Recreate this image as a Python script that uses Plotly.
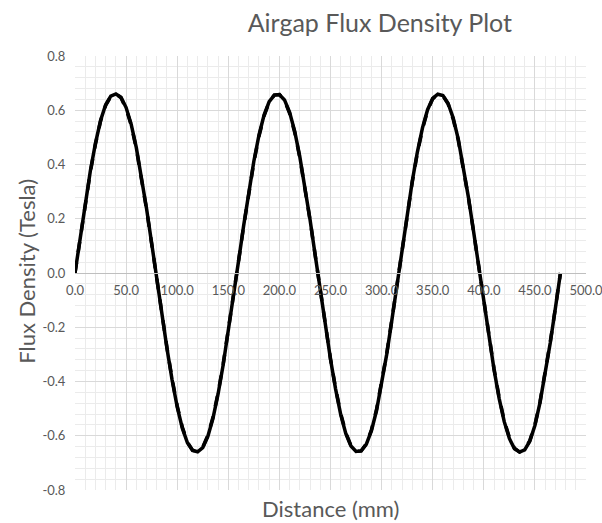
import plotly.graph_objects as go

# Distance (mm), sampled every 5 mm
distance_mm = [i * 5 for i in range(96)]

# Flux density (Tesla)
flux_solid = [
    0.000, 0.130, 0.258, 0.376, 0.478, 0.562, 0.620, 0.652, 0.660, 0.648,
    0.610, 0.548, 0.462, 0.358, 0.238, 0.110, -0.022, -0.152, -0.278, -0.394,
    -0.494, -0.572, -0.626, -0.654, -0.659, -0.644, -0.602, -0.536, -0.446, -0.338,
    -0.216, -0.087, 0.043, 0.174, 0.300, 0.412, 0.508, 0.582, 0.632, 0.656,
    0.658, 0.638, 0.592, 0.522, 0.428, 0.318, 0.196, 0.066, -0.065, -0.195,
    -0.318, -0.428, -0.522, -0.592, -0.638, -0.658, -0.656, -0.632, -0.582, -0.508,
    -0.412, -0.300, -0.175, -0.044, 0.087, 0.216, 0.338, 0.446, 0.535, 0.602,
    0.644, 0.659, 0.654, 0.626, 0.572, 0.494, 0.394, 0.278, 0.153, 0.022,
    -0.108, -0.236, -0.356, -0.462, -0.548, -0.610, -0.648, -0.660, -0.652, -0.620,
    -0.562, -0.478, -0.376, -0.258, -0.131, 0.000,
]
flux_dashed = [
    0.000, 0.128, 0.255, 0.372, 0.475, 0.560, 0.618, 0.651, 0.660, 0.646,
    0.606, 0.545, 0.458, 0.354, 0.235, 0.108, -0.023, -0.151, -0.276, -0.390,
    -0.490, -0.568, -0.624, -0.653, -0.659, -0.642, -0.599, -0.532, -0.442, -0.335,
    -0.214, -0.087, 0.043, 0.172, 0.297, 0.408, 0.504, 0.579, 0.630, 0.656,
    0.658, 0.636, 0.589, 0.518, 0.425, 0.316, 0.195, 0.066, -0.065, -0.193,
    -0.316, -0.425, -0.518, -0.589, -0.636, -0.658, -0.656, -0.630, -0.579, -0.504,
    -0.408, -0.297, -0.173, -0.044, 0.087, 0.214, 0.335, 0.442, 0.531, 0.599,
    0.642, 0.659, 0.653, 0.624, 0.568, 0.490, 0.390, 0.276, 0.152, 0.022,
    -0.108, -0.235, -0.353, -0.458, -0.545, -0.606, -0.646, -0.660, -0.651, -0.618,
    -0.560, -0.475, -0.372, -0.255, -0.130, 0.000,
]

x_ticks = [0, 50, 100, 150, 200, 250, 300, 350, 400, 450, 500]
y_ticks = [-0.8, -0.6, -0.4, -0.2, 0.0, 0.2, 0.4, 0.6, 0.8]
x_ticktext = ["%.1f" % v for v in x_ticks]
y_ticktext = ["%.1f" % v for v in y_ticks]

FONT = "Lato"
GRAY = "#595959"

fig = go.Figure()
fig.add_trace(go.Scatter(x=distance_mm, y=flux_solid, mode="lines",
                         line=dict(color="black", width=3.5), showlegend=False))
fig.add_trace(go.Scatter(x=distance_mm, y=flux_dashed, mode="lines",
                         line=dict(color="black", width=3.5, dash="dash"), showlegend=False))

fig.update_layout(
    width=602, height=523,
    margin=dict(l=75, r=16, t=56, b=33),
    paper_bgcolor="white", plot_bgcolor="white",
    font=dict(family=FONT, color=GRAY, size=13),
    title=dict(text="Airgap Flux Density Plot", x=0.631, xanchor="center",
               y=0.956, yanchor="middle",
               font=dict(family=FONT, size=25, color=GRAY)),
    xaxis=dict(range=[0, 500], tickvals=x_ticks, ticktext=x_ticktext,
               showgrid=True, gridcolor="#d9d9d9", gridwidth=1,
               minor=dict(dtick=10, tick0=0, showgrid=True, gridcolor="#ebebeb", gridwidth=1),
               anchor="free", position=0.5, ticklabeloverflow="allow", automargin=False,
               showline=True, linecolor="#bfbfbf", linewidth=1,
               zeroline=False, ticks="outside", ticklen=5, tickcolor="rgba(0,0,0,0)",
               tickfont=dict(family=FONT, size=13, color=GRAY)),
    yaxis=dict(range=[-0.8, 0.8], tickvals=y_ticks, ticktext=y_ticktext, automargin=False,
               showgrid=True, gridcolor="#d9d9d9", gridwidth=1,
               minor=dict(dtick=0.04, tick0=0, showgrid=True, gridcolor="#ebebeb", gridwidth=1),
               zeroline=False, showline=False, ticks="outside", ticklen=6,
               tickcolor="rgba(0,0,0,0)",
               tickfont=dict(family=FONT, size=13, color=GRAY)),
    annotations=[
        dict(text="Distance (mm)", xref="paper", yref="paper", x=0.5, y=-0.042,
             xanchor="center", yanchor="middle", showarrow=False,
             font=dict(family=FONT, size=22, color=GRAY)),
        dict(text="Flux Density (Tesla)", xref="paper", yref="paper", x=-0.094, y=0.505,
             xanchor="center", yanchor="middle", textangle=-90, showarrow=False,
             font=dict(family=FONT, size=22, color=GRAY)),
    ],
)

fig.write_html("out.html")
